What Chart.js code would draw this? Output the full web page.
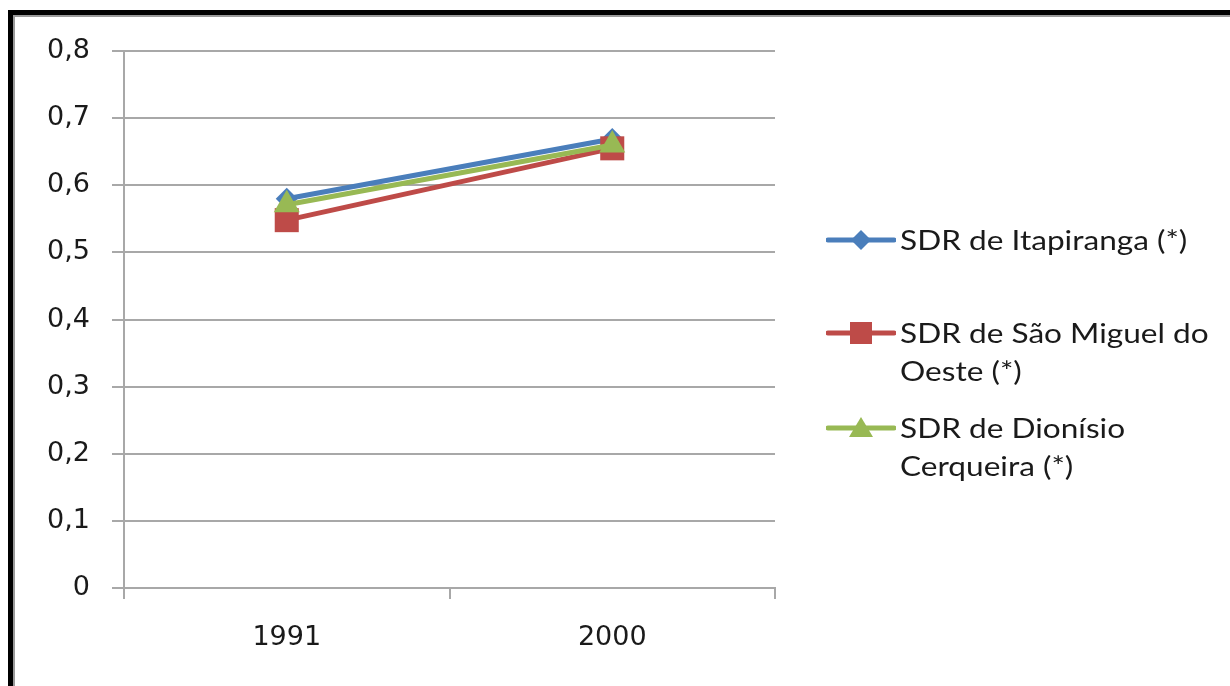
<!DOCTYPE html>
<html lang="pt">
<head>
  <meta charset="UTF-8">
  <title>SDR</title>
  <script src="https://cdn.jsdelivr.net/npm/chart.js"></script>
  <style>
    html, body { margin: 0; padding: 0; background: #fff; }
    body { width: 1230px; height: 686px; position: relative; overflow: hidden; }
    #frame {
      position: absolute; left: 8px; top: 10px; width: 1240px; height: 700px;
      border-left: 5px solid #000; border-top: 5px solid #000;
    }
    #frame .inner {
      position: absolute; left: 0; top: 0; right: 0; bottom: 0;
      border-left: 2px solid #9a9a9a; border-top: 2px solid #9a9a9a;
    }
    #wrap { position: absolute; left: 0; top: 0; width: 1230px; height: 686px; }
    #legend {
      position: absolute; left: 826px; top: 0; width: 400px;
      font-family: Lato, "Open Sans", sans-serif; font-size: 27px; color: #1a1a1a;
    }
    .item { position: absolute; left: 0; display: flex; align-items: flex-start; }
    .item svg { flex: none; margin-right: 4px; }
    .item span { line-height: 38px; white-space: nowrap; display: inline-block; transform: scaleX(1.17); transform-origin: left center; }
  </style>
</head>
<body>
  <div id="frame"><div class="inner"></div></div>
  <div id="wrap"><canvas id="chart"></canvas></div>
  <div id="legend"></div>

  <script>
    // data
    const years = ['1991', '2000'];
    const itapiranga = [0.580, 0.669];
    const saoMiguel = [0.548, 0.655];
    const dionisio = [0.571, 0.660];
    const yTickLabels = ['0', '0,1', '0,2', '0,3', '0,4', '0,5', '0,6', '0,7', '0,8'];

    const series = [
      { label: ['SDR de Itapiranga (*)'], data: itapiranga, color: '#4a7ebb', point: 'rectRot', radius: 11, order: 2 },
      { label: ['SDR de São Miguel do', 'Oeste (*)'], data: saoMiguel, color: '#be4b48', point: 'rect', radius: 17, order: 1 },
      { label: ['SDR de Dionísio', 'Cerqueira (*)'], data: dionisio, color: '#98b954', point: 'triangle', radius: 15, order: 0 }
    ];

    const gridColor = '#a8a8a8';

    new Chart(document.getElementById('chart'), {
      type: 'line',
      data: {
        labels: years,
        datasets: series.map(s => ({
          label: s.label.join(' '),
          data: s.data,
          borderColor: s.color,
          backgroundColor: s.color,
          borderWidth: 5,
          pointStyle: s.point,
          pointRadius: s.radius,
          pointBorderWidth: 0,
          order: s.order
        }))
      },
      options: {
        responsive: true,
        maintainAspectRatio: false,
        animation: false,
        layout: { padding: { top: 51, right: 455, bottom: 0, left: 0 } },
        plugins: { legend: { display: false }, tooltip: { enabled: false } },
        scales: {
          x: {
            offset: true,
            grid: { offset: true, drawOnChartArea: false, drawTicks: true, tickLength: 11, color: gridColor, lineWidth: 2 },
            border: { color: gridColor, width: 2 },
            ticks: { color: '#1a1a1a', padding: 23, font: { family: 'DejaVu Sans', size: 27 } },
            afterFit: scale => { scale.height = 98; }
          },
          y: {
            min: 0,
            max: 0.8,
            ticks: {
              stepSize: 0.1,
              color: '#1a1a1a',
              padding: 22,
              font: { family: 'DejaVu Sans', size: 27 },
              callback: (v, i) => yTickLabels[i]
            },
            grid: { color: gridColor, lineWidth: 2, tickLength: 12 },
            border: { color: gridColor, width: 2 },
            afterFit: scale => { scale.width = 124; }
          }
        }
      }
    });

    // legend drawn as html beside the plot
    const legendTops = [221, 314, 409];
    const legend = document.getElementById('legend');
    series.forEach((s, i) => {
      const item = document.createElement('div');
      item.className = 'item';
      item.style.top = legendTops[i] + 'px';
      let mark = '';
      if (s.point === 'rectRot') mark = '<polygon points="35,9 45,19 35,29 25,19" fill="' + s.color + '"/>';
      if (s.point === 'rect') mark = '<rect x="24" y="8" width="22" height="22" fill="' + s.color + '"/>';
      if (s.point === 'triangle') mark = '<polygon points="35,8 47,28 23,28" fill="' + s.color + '"/>';
      item.innerHTML =
        '<svg width="70" height="38"><line x1="2" y1="19" x2="68" y2="19" stroke="' + s.color +
        '" stroke-width="5" stroke-linecap="round"/>' + mark + '</svg><span>' + s.label.join('<br>') + '</span>';
      legend.appendChild(item);
    });
  </script>
</body>
</html>
